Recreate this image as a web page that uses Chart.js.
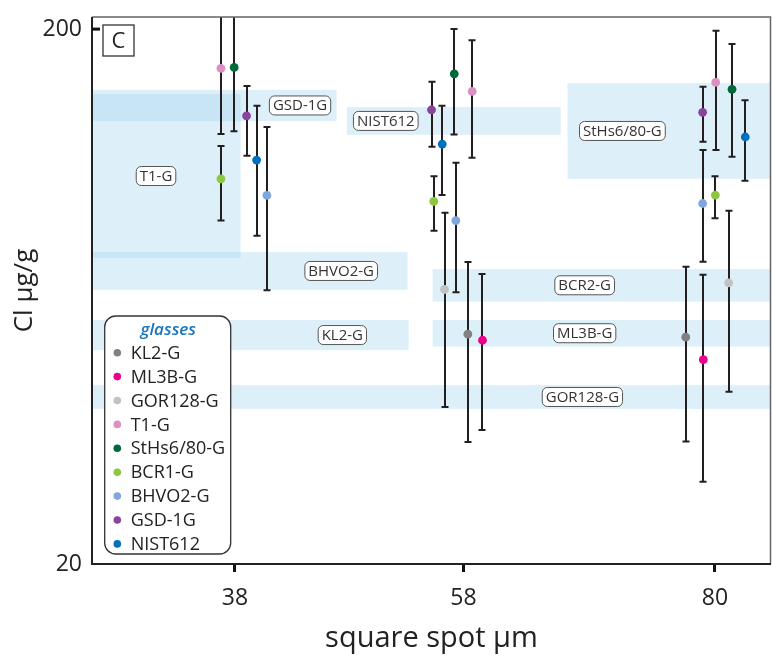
<!DOCTYPE html>
<html><head><meta charset="utf-8">
<script src="https://cdn.jsdelivr.net/npm/chart.js@4.4.1/dist/chart.umd.min.js"></script>
<style>html,body{margin:0;padding:0;background:#fff;}canvas{display:block;}</style>
</head><body>
<canvas id="c" width="772" height="659"></canvas>
<script>
// ---- data ----
const spots = [38, 58, 80];
const xTicks = [38, 58, 80];
const yTicks = [20, 200];
const glasses = ['KL2-G','ML3B-G','GOR128-G','T1-G','StHs6/80-G','BCR1-G','BHVO2-G','GSD-1G','NIST612'];
const colors = ['#818181','#ec008c','#c2c2c2','#dc8fc3','#00693a','#8dc63f','#7fa6dd','#8b449b','#0071bf'];

const kl2Mean   = [null, 53.8, 53.1];
const kl2Lo     = [null, 33.8, 33.9];
const kl2Hi     = [null, 73.4, 71.9];
const kl2Jit    = [null, 0.38, -2.56];

const ml3bMean  = [null, 52.4, 48.2];
const ml3bLo    = [null, 35.6, 28.5];
const ml3bHi    = [null, 69.7, 69.5];
const ml3bJit   = [null, 1.66, -1.02];

const gorMean   = [null, 65.2, 67.1];
const gorLo     = [null, 39.3, 42.0];
const gorHi     = [null, 90.7, 91.5];
const gorJit    = [null, -1.66, 1.20];

const t1Mean    = [168.9, 153.0, 159.0];
const t1Lo      = [127.3, 114.9, 118.8];
const t1Hi      = [240, 190.7, 198.5];
const t1Jit     = [-1.22, 0.76, 0.06];

const sthsMean  = [169.6, 165.0, 154.3];
const sthsLo    = [128.9, 127.1, 115.4];
const sthsHi    = [235, 200, 187.5];
const sthsJit   = [-0.06, -0.81, 1.49];

const bcr1Mean  = [105.0, 95.3, 97.9];
const bcr1Lo    = [87.7, 84.0, 88.6];
const bcr1Hi    = [120.9, 106.2, 106.2];
const bcr1Jit   = [-1.22, -2.60, 0.03];

const bhvoMean  = [97.8, 87.7, 94.4];
const bhvoLo    = [65.0, 64.4, 73.5];
const bhvoHi    = [131.2, 112.5, 118.8];
const bhvoJit   = [2.80, -0.67, -1.08];

const gsdMean   = [137.7, 141.3, 139.8];
const gsdLo     = [115.9, 120.5, 123.1];
const gsdHi     = [156.5, 159.4, 156.0];
const gsdJit    = [1.02, -2.80, -1.08];

const nistMean  = [113.8, 121.9, 125.7];
const nistLo    = [82.2, 97.9, 104.1];
const nistHi    = [143.8, 143.8, 147.3];
const nistJit   = [1.90, -1.86, 2.65];

const means = [kl2Mean, ml3bMean, gorMean, t1Mean, sthsMean, bcr1Mean, bhvoMean, gsdMean, nistMean];
const lows  = [kl2Lo, ml3bLo, gorLo, t1Lo, sthsLo, bcr1Lo, bhvoLo, gsdLo, nistLo];
const highs = [kl2Hi, ml3bHi, gorHi, t1Hi, sthsHi, bcr1Hi, bhvoHi, gsdHi, nistHi];
const jits  = [kl2Jit, ml3bJit, gorJit, t1Jit, sthsJit, bcr1Jit, bhvoJit, gsdJit, nistJit];

// reference value bands
const bandNames = ['GSD-1G','T1-G','BHVO2-G','KL2-G','NIST612','StHs6/80-G','BCR2-G','ML3B-G','GOR128-G'];
const bandLo    = [134.6, 74.7, 65.1, 50.2, 126.9, 105.0, 61.9, 51.0, 39.0];
const bandHi    = [154.0, 151.2, 76.6, 57.2, 143.0, 158.5, 71.2, 57.2, 43.2];
const bandFrom  = [25.5, 25.5, 25.5, 25.5, 47.8, 67.1, 55.3, 55.3, 25.5];
const bandTo    = [46.9, 38.5, 53.1, 53.2, 66.5, 90, 90, 90, 90];
const bandLabelX= [43.7, 31.1, 47.3, 47.4, 51.2, 71.9, 68.6, 68.6, 68.4];

const FONT = "'Open Sans', sans-serif";

const datasets = glasses.map((g, k) => ({
  label: g,
  data: spots.map((s, i) => means[k][i] == null ? null : {x: s + jits[k][i], y: means[k][i], lo: lows[k][i], hi: highs[k][i]}).filter(p => p),
  backgroundColor: colors[k],
  borderWidth: 0,
  pointRadius: 4.4,
  pointHoverRadius: 4.4,
  showLine: false
}));

const bandsPlugin = {
  id: 'bands',
  beforeDatasetsDraw(chart) {
    const {ctx, chartArea: a, scales: {x, y}} = chart;
    ctx.save();
    ctx.beginPath(); ctx.rect(a.left, a.top, a.right - a.left, a.bottom - a.top); ctx.clip();
    ctx.fillStyle = 'rgba(166,213,239,0.38)';
    bandNames.forEach((n, i) => {
      const x0 = x.getPixelForValue(bandFrom[i]), x1 = x.getPixelForValue(bandTo[i]);
      const y0 = y.getPixelForValue(bandHi[i]), y1 = y.getPixelForValue(bandLo[i]);
      ctx.fillRect(x0, y0, x1 - x0, y1 - y0);
    });
    // labels
    ctx.font = '15px ' + FONT;
    ctx.textAlign = 'center'; ctx.textBaseline = 'middle';
    bandNames.forEach((n, i) => {
      const cx = x.getPixelForValue(bandLabelX[i]);
      const cy = y.getPixelForValue(Math.sqrt(bandLo[i] * bandHi[i]));
      const w = ctx.measureText(n).width + 7, h = 19;
      ctx.beginPath();
      ctx.roundRect(cx - w / 2, cy - h / 2, w, h, 5);
      ctx.fillStyle = '#fff'; ctx.fill();
      ctx.lineWidth = 1; ctx.strokeStyle = '#555'; ctx.stroke();
      ctx.fillStyle = '#333';
      ctx.fillText(n, cx, cy + 0.5);
    });
    // error bars
    ctx.strokeStyle = '#231f20';
    ctx.lineWidth = 2;
    chart.data.datasets.forEach(ds => {
      ds.data.forEach(p => {
        const px = Math.round(x.getPixelForValue(p.x));
        const ylo = y.getPixelForValue(p.lo), yhi = y.getPixelForValue(p.hi);
        ctx.beginPath();
        ctx.moveTo(px, ylo); ctx.lineTo(px, yhi);
        ctx.moveTo(px - 3.5, ylo); ctx.lineTo(px + 3.5, ylo);
        ctx.moveTo(px - 3.5, yhi); ctx.lineTo(px + 3.5, yhi);
        ctx.stroke();
      });
    });
    ctx.restore();
  },
  afterDatasetsDraw(chart) {
    const {ctx, chartArea: a, scales: {y}} = chart;
    ctx.save();
    // frame
    ctx.strokeStyle = '#666'; ctx.lineWidth = 1.5;
    ctx.beginPath();
    ctx.moveTo(a.left, a.top); ctx.lineTo(a.right - 0.5, a.top); ctx.lineTo(a.right - 0.5, a.bottom);
    ctx.stroke();
    ctx.strokeStyle = '#222'; ctx.lineWidth = 2;
    ctx.beginPath();
    ctx.moveTo(a.left, a.top); ctx.lineTo(a.left, a.bottom); ctx.lineTo(a.right, a.bottom);
    ctx.stroke();
    // inner y tick at 200
    ctx.lineWidth = 3; ctx.strokeStyle = '#111';
    const ty = y.getPixelForValue(200);
    ctx.beginPath(); ctx.moveTo(a.left, ty); ctx.lineTo(a.left + 8, ty); ctx.stroke();
    // panel label
    ctx.lineWidth = 1.3; ctx.strokeStyle = '#333';
    ctx.fillStyle = '#fff';
    ctx.fillRect(a.left + 11, a.top + 8, 31, 31);
    ctx.strokeRect(a.left + 11, a.top + 8, 31, 31);
    ctx.fillStyle = '#222'; ctx.font = '22px ' + FONT;
    ctx.textAlign = 'center'; ctx.textBaseline = 'middle';
    ctx.fillText('C', a.left + 26.5, a.top + 24.5);
    // legend
    const lx = a.left + 12.7, lw = 126, lh = 238, ly = a.bottom - 10 - lh;
    ctx.beginPath(); ctx.roundRect(lx, ly, lw, lh, 11);
    ctx.fillStyle = '#fff'; ctx.fill();
    ctx.lineWidth = 1.3; ctx.strokeStyle = '#333'; ctx.stroke();
    ctx.fillStyle = '#1b75bb'; ctx.font = 'italic 600 17px ' + FONT;
    ctx.fillText('glasses', lx + 63.5, ly + 14);
    ctx.textAlign = 'left';
    ctx.font = '18px ' + FONT;
    glasses.forEach((g, k) => {
      const cy = ly + 36.7 + k * 23.9;
      ctx.beginPath(); ctx.arc(lx + 12.6, cy, 3.8, 0, Math.PI * 2);
      ctx.fillStyle = colors[k]; ctx.fill();
      ctx.fillStyle = '#222';
      ctx.fillText(g, lx + 26, cy + 1);
    });
    ctx.restore();
  }
};

new Chart(document.getElementById('c'), {
  type: 'scatter',
  data: {datasets},
  plugins: [bandsPlugin],
  options: {
    responsive: false,
    animation: false,
    devicePixelRatio: 1,
    layout: {autoPadding: false, padding: {top: 17, right: 1, left: 0, bottom: 0}},
    plugins: {legend: {display: false}, tooltip: {enabled: false}},
    scales: {
      x: {
        type: 'linear', min: 25.5, max: 84.9,
        afterBuildTicks: s => { s.ticks = xTicks.map(v => ({value: v})); },
        afterFit: s => { s.height = 95; s.paddingLeft = 0; s.paddingRight = 0; },
        grid: {drawOnChartArea: false, drawTicks: true, tickLength: 8, tickWidth: 3, tickColor: '#111'},
        border: {display: false},
        ticks: {color: '#222', font: {family: FONT, size: 23}, padding: 13, callback: v => String(v)},
        title: {display: true, text: 'square spot µm', color: '#222', font: {family: FONT, size: 29}, padding: {top: 0, bottom: 3}}
      },
      y: {
        type: 'logarithmic', min: 20, max: 210.7,
        afterBuildTicks: s => { s.ticks = yTicks.map(v => ({value: v})); },
        afterFit: s => { s.width = 92; s.paddingTop = 0; s.paddingBottom = 0; },
        grid: {display: false, drawTicks: false},
        border: {display: false},
        ticks: {color: '#222', font: {family: FONT, size: 23}, padding: 10, callback: v => String(v)},
        title: {display: true, text: 'Cl µg/g', color: '#222', font: {family: FONT, size: 26}, padding: {top: 9, bottom: 0}}
      }
    }
  }
});
</script>
</body></html>
